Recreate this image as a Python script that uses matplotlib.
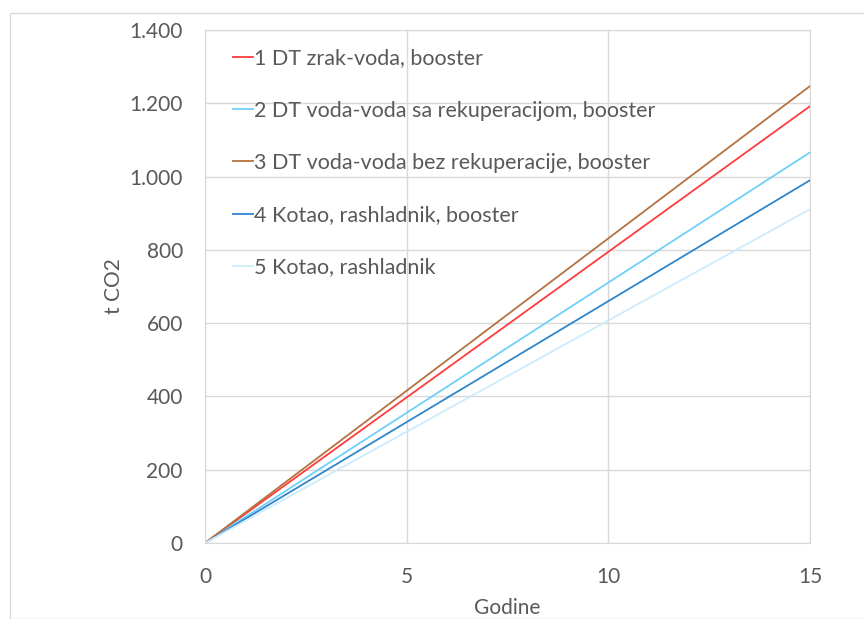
import matplotlib.pyplot as plt
from matplotlib.patches import Rectangle
from matplotlib.ticker import FuncFormatter, MultipleLocator

plt.rcParams['font.family'] = ['Lato', 'DejaVu Sans']

godine = [0, 15]
labels = ["1 DT zrak-voda, booster",
          "2 DT voda-voda sa rekuperacijom, booster",
          "3 DT voda-voda bez rekuperacije, booster",
          "4 Kotao, rashladnik, booster",
          "5 Kotao, rashladnik"]
dt_zrak_voda = [0, 1192]
dt_voda_rek = [0, 1066]
dt_voda_bez = [0, 1247]
kotao_booster = [0, 990]
kotao = [0, 911]
series = [dt_zrak_voda, dt_voda_rek, dt_voda_bez, kotao_booster, kotao]
colors = ["#FF3B3B", "#6FD0F8", "#B57240", "#2F86CB", "#CDEBFB"]

text_col = "#595959"
grid_col = "#D9D9D9"

fig = plt.figure(figsize=(8.64, 6.19), dpi=100)
# okvir grafikona
fig.patches.append(Rectangle((10 / 864, 0), 1.0, (619 - 13) / 619, transform=fig.transFigure,
                             fill=False, edgecolor="#D9D9D9", linewidth=1.0))
ax = fig.add_axes([205 / 864, 76 / 619, 605 / 864, 513 / 619])

for vals, lab, c in zip(series, labels, colors):
    ax.plot(godine, vals, color=c, linewidth=1.3, label=lab)

ax.set_xlim(0, 15)
ax.set_ylim(0, 1400)
ax.xaxis.set_major_locator(MultipleLocator(5))
ax.yaxis.set_major_locator(MultipleLocator(200))
ax.yaxis.set_major_formatter(FuncFormatter(lambda v, p: f"{int(v):,}".replace(",", ".")))
ax.grid(True, color=grid_col, linewidth=1.0)
ax.set_axisbelow(True)
for s in ax.spines.values():
    s.set_color(grid_col)
ax.tick_params(length=0, labelsize=15, labelcolor=text_col, pad=16)
ax.tick_params(axis='x', pad=17)

ax.set_xlabel("Godine", fontsize=15, color=text_col, labelpad=8)
ax.set_ylabel("t CO2", fontsize=15, color=text_col, labelpad=4)

leg = ax.legend(loc="upper left", bbox_to_anchor=(0.014, 1.002), frameon=False,
                fontsize=15.5, labelspacing=1.5, handlelength=0.95, handletextpad=0.05,
                labelcolor=text_col)

fig.savefig("out.png", dpi=100, facecolor="white")
